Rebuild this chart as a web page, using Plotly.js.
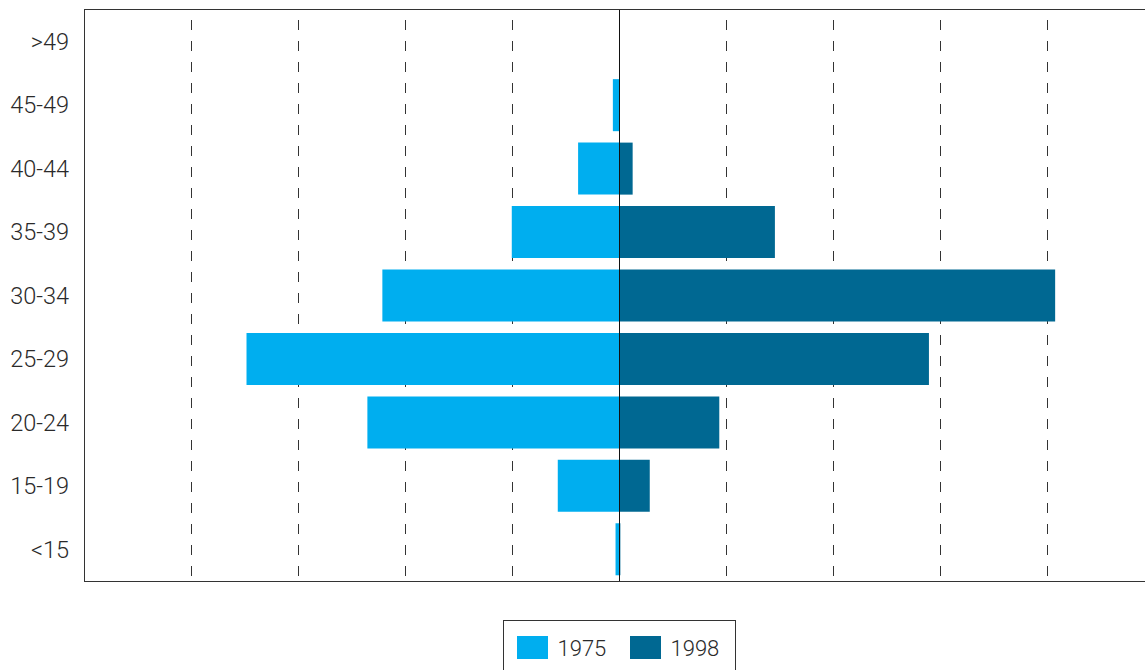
<!DOCTYPE html>
<html>
<head>
<meta charset="utf-8">
<script src="https://cdn.plot.ly/plotly-3.0.1.min.js"></script>
<style>html,body{margin:0;padding:0;background:#fff;}#chart{width:1145px;height:670px;}</style>
</head>
<body>
<div id="chart"></div>
<script>
const ageGroups = ["<15", "15-19", "20-24", "25-29", "30-34", "35-39", "40-44", "45-49", ">49"];
const values1975 = [0.04, 0.58, 2.36, 3.49, 2.22, 1.01, 0.39, 0.065, 0];
const values1998 = [0.005, 0.28, 0.93, 2.89, 4.07, 1.45, 0.12, 0, 0];
const seriesNames = ["1975", "1998"];

const traces = [
  {
    type: "bar", orientation: "h", name: seriesNames[0],
    y: ageGroups, x: values1975.map(v => -v),
    marker: {color: "#00AEEF"}, width: 0.82, hoverinfo: "skip"
  },
  {
    type: "bar", orientation: "h", name: seriesNames[1],
    y: ageGroups, x: values1998,
    marker: {color: "#006892"}, width: 0.82, hoverinfo: "skip"
  }
];

const layout = {
  width: 1145, height: 670,
  margin: {l: 85, r: 0, t: 10, b: 89},
  paper_bgcolor: "#fff", plot_bgcolor: "#fff",
  barmode: "relative",
  showlegend: true,
  font: {family: "Roboto, 'Open Sans', sans-serif", color: "#2a2a2a", weight: 300},
  xaxis: {
    range: [-5, 4.91], dtick: 1, tick0: 0,
    showticklabels: false, ticks: "",
    showgrid: true, gridcolor: "#333", gridwidth: 1, griddash: "0px,10px,10px,1px",
    zeroline: true, zerolinecolor: "#111", zerolinewidth: 1.2,
    zerolinelayer: "above traces",
    showline: true, mirror: true, linecolor: "#333", linewidth: 1.2,
    fixedrange: true
  },
  yaxis: {
    type: "category", categoryorder: "array", categoryarray: ageGroups,
    range: [-0.5, 8.5],
    showgrid: false, zeroline: false,
    showline: true, linecolor: "#333", linewidth: 1.2,
    ticks: "", ticklabelstandoff: 10,
    tickfont: {size: 23.5, color: "#2a2a2a", weight: 300},
    fixedrange: true
  },
  legend: {
    orientation: "h", x: 0.5, xanchor: "center", y: -0.068, yanchor: "top",
    bordercolor: "#333", borderwidth: 1,
    font: {size: 22, color: "#2a2a2a", weight: 300},
    entrywidth: 68,
    traceorder: "normal"
  }
};

function parseTranslate(s) {
  const m = /translate\(\s*([-\d.e]+)[ ,]+([-\d.e]+)/.exec(s || "");
  return m ? [parseFloat(m[1]), parseFloat(m[2])] : [0, 0];
}

Plotly.newPlot("chart", traces, layout, {displayModeBar: false, staticPlot: true}).then(function (gd) {
  const leg = gd.querySelector("g.legend");
  if (!leg) return;
  const bg = leg.querySelector("rect.bg");
  const paths = leg.querySelectorAll("g.legendpoints path");
  paths.forEach(function (p) { p.setAttribute("d", "M10.5,11.5H-20.5V-11.5H10.5Z"); });
  const sb = leg.querySelector("g.scrollbox");
  if (sb) sb.removeAttribute("clip-path");
  const bgR = bg.getBoundingClientRect();
  const ox = bgR.left - parseFloat(bg.getAttribute("x") || 0);
  const oy = bgR.top - parseFloat(bg.getAttribute("y") || 0);
  const s1 = paths[0].getBoundingClientRect();
  const texts = leg.querySelectorAll("text.legendtext");
  const t2 = texts[texts.length - 1].getBoundingClientRect();
  const left = s1.left - 14, right = t2.right + 16;
  const cy = (s1.top + s1.bottom) / 2;
  const top = cy - 27.5;
  bg.setAttribute("x", left - ox);
  bg.setAttribute("y", top - oy);
  bg.setAttribute("width", right - left);
  bg.setAttribute("height", 60);
  const t = parseTranslate(leg.getAttribute("transform"));
  leg.setAttribute("transform", "translate(" + (t[0] + 503 - left) + "," + (t[1] + 620 - top) + ")");
});
</script>
</body>
</html>
